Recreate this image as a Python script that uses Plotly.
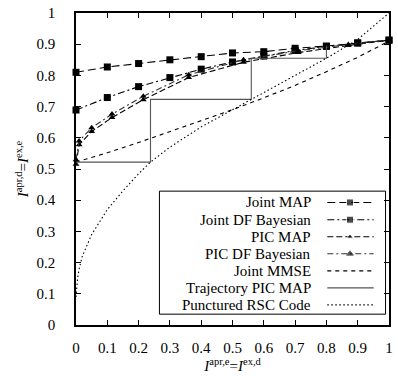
import plotly.graph_objects as go

# ---------------- data ----------------
joint_x = [0.0, 0.1, 0.2, 0.3, 0.4, 0.5, 0.6, 0.7, 0.8, 0.9, 1.0]
joint_map_y = [0.810, 0.827, 0.838, 0.850, 0.860, 0.872, 0.876, 0.887, 0.894, 0.904, 0.913]
joint_df_y = [0.689, 0.729, 0.764, 0.793, 0.820, 0.843, 0.862, 0.880, 0.893, 0.904, 0.913]

pic_x = [0.0, 0.01, 0.05, 0.115, 0.215, 0.36, 0.535, 0.71, 0.87, 1.0]
pic_map_y = [0.515, 0.578, 0.620, 0.665, 0.722, 0.793, 0.842, 0.873, 0.896, 0.913]
pic_df_y = [0.530, 0.590, 0.632, 0.676, 0.733, 0.802, 0.850, 0.879, 0.899, 0.913]

mmse_x = [0.0, 0.1, 0.2, 0.3, 0.4, 0.5, 0.6, 0.7, 0.8, 0.9, 1.0]
mmse_y = [0.522, 0.552, 0.585, 0.620, 0.655, 0.690, 0.728, 0.768, 0.812, 0.858, 0.910]

traj_x = [0.0, 0.238, 0.238, 0.560, 0.560, 0.800, 0.800]
traj_y = [0.522, 0.522, 0.723, 0.723, 0.855, 0.855, 0.895]

rsc_x = [0.0, 0.005, 0.01, 0.02, 0.05, 0.1, 0.15, 0.2, 0.238, 0.3, 0.4, 0.5, 0.56, 0.6, 0.7, 0.8, 0.9, 1.0]
rsc_y = [0.09, 0.15, 0.18, 0.22, 0.29, 0.37, 0.43, 0.485, 0.522, 0.57, 0.635, 0.69, 0.723, 0.745, 0.80, 0.855, 0.915, 1.0]

x_ticks = [0, 0.1, 0.2, 0.3, 0.4, 0.5, 0.6, 0.7, 0.8, 0.9, 1]
y_ticks = [0, 0.1, 0.2, 0.3, 0.4, 0.5, 0.6, 0.7, 0.8, 0.9, 1]

legend_names = ["Joint MAP", "Joint DF Bayesian", "PIC MAP", "PIC DF Bayesian",
                "Joint MMSE", "Trajectory PIC MAP", "Punctured RSC Code"]

# ---------------- styles ----------------
FONT = "Liberation Serif"
styles = [
    dict(dash="8px,4px", color="black", marker="square", msize=7),
    dict(dash="7px,3px,2px,3px", color="black", marker="square", msize=7),
    dict(dash="6px,3px", color="black", marker="triangle-up", msize=6),
    dict(dash="6px,3px,2px,3px", color="#333333", marker="triangle-up", msize=6),
    dict(dash="4px,4px", color="black", marker=None, msize=0),
    dict(dash="solid", color="#555555", marker=None, msize=0),
    dict(dash="1.5px,2.5px", color="black", marker=None, msize=0),
]
series = [
    (joint_x, joint_map_y),
    (joint_x, joint_df_y),
    (pic_x, pic_map_y),
    (pic_x, pic_df_y),
    (mmse_x, mmse_y),
    (traj_x, traj_y),
    (rsc_x, rsc_y),
]

fig = go.Figure()

for (xs, ys), st, name in zip(series, styles, legend_names):
    mode = "lines+markers" if st["marker"] else "lines"
    fig.add_trace(go.Scatter(
        x=xs, y=ys, mode=mode, name=name, showlegend=False,
        line=dict(color=st["color"], width=1.1, dash=st["dash"]),
        marker=dict(symbol=st["marker"] or "circle", size=st["msize"], color="black"),
        cliponaxis=False,
    ))

# ---------------- custom legend (text left, sample right) ----------------
W, H = 398, 376
L, R, T, B = 75.5, 392.5, 8, 325


def px2x(px):
    return (px - L) / (R - L)


def py2y(py):
    return (B - py) / (B - T)


row_py = [200.5, 218, 235.3, 252.6, 270, 287.3, 304.6]
s0, s1, sm = px2x(330), px2x(377), px2x(353)
for name, st, py in zip(legend_names, styles, row_py):
    yy = py2y(py)
    fig.add_annotation(x=px2x(316), y=yy, xref="paper", yref="paper",
                       text=name, showarrow=False, xanchor="right", yanchor="middle",
                       font=dict(family=FONT, size=15, color="black"))
    fig.add_trace(go.Scatter(
        x=[s0, sm, s1], y=[yy, yy, yy], xaxis="x2", yaxis="y2",
        mode="lines+markers" if st["marker"] else "lines", showlegend=False,
        line=dict(color=st["color"], width=1.1, dash=st["dash"]),
        marker=dict(symbol=st["marker"] or "circle", size=[0, st["msize"], 0], color="black"),
        hoverinfo="skip",
    ))

fig.add_shape(type="rect", xref="paper", yref="paper",
              x0=px2x(160), x1=px2x(389), y0=py2y(314), y1=py2y(189),
              line=dict(color="black", width=1), fillcolor="rgba(0,0,0,0)")

axis_common = dict(
    range=[0, 1], showgrid=False, zeroline=False,
    showline=True, linecolor="black", linewidth=1.5, mirror="ticks",
    ticks="inside", ticklen=5, tickwidth=1.2, tickcolor="black",
    tickfont=dict(family=FONT, size=15, color="black"),
)

fig.update_layout(
    width=W, height=H,
    margin=dict(l=L, r=W - R, t=T, b=H - B),
    paper_bgcolor="white", plot_bgcolor="white",
    showlegend=False,
    font=dict(family=FONT, size=15, color="black"),
    xaxis=dict(**axis_common, tickvals=x_ticks, ticktext=[f"{v:g}" for v in x_ticks],
               ticklabelstandoff=8,
               title=dict(text="<i>I</i><sup>apr,e</sup>=<i>I</i><sup>ex,d</sup>",
                          font=dict(family=FONT, size=15), standoff=4)),
    yaxis=dict(**axis_common, tickvals=y_ticks, ticktext=[f"{v:g}" for v in y_ticks],
               ticklabelstandoff=16,
               title=dict(text="<i>I</i><sup>apr,d</sup>=<i>I</i><sup>ex,e</sup>",
                          font=dict(family=FONT, size=15), standoff=4)),
    xaxis2=dict(range=[0, 1], overlaying="x", visible=False),
    yaxis2=dict(range=[0, 1], overlaying="y", visible=False),
)

fig.write_html("out.html")
